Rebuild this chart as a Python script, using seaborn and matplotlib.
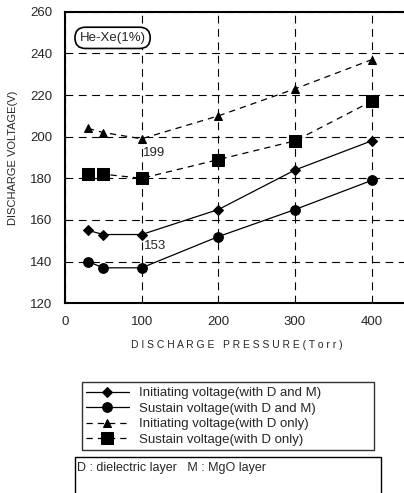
import pandas as pd
import matplotlib.pyplot as plt
import seaborn as sns
from matplotlib.patches import Rectangle

# Data
pressure = [30, 50, 100, 200, 300, 400]
init_dm = [155, 153, 153, 165, 184, 198]
sustain_dm = [140, 137, 137, 152, 165, 179]
init_d = [204, 202, 199, 210, 223, 237]
sustain_d = [182, 182, 180, 189, 198, 217]

labels = ['Initiating voltage(with D and M)', 'Sustain voltage(with D and M)',
          'Initiating voltage(with D only)', 'Sustain voltage(with D only)']
series = [init_dm, sustain_dm, init_d, sustain_d]
markers = ['D', 'o', '^', 's']
msizes = [5, 7, 6, 9]
lstyles = ['-', '-', (0, (5, 4)), (0, (5, 4))]

sns.set_style('white')
plt.rcParams['font.family'] = ['Liberation Sans', 'DejaVu Sans']

fig = plt.figure(figsize=(4.04, 4.93), dpi=100)
ax = fig.add_axes([0.161, 0.385, 0.85, 0.591])

handles = []
for lab, vals, m, ms, ls in zip(labels, series, markers, msizes, lstyles):
    df = pd.DataFrame({'Pressure': pressure, 'Voltage': vals})
    sns.lineplot(x='Pressure', y='Voltage', data=df, ax=ax, color='black',
                 marker=m, markersize=ms, linestyle=ls, linewidth=0.9,
                 markeredgecolor='black', label=lab, legend=False)
    handles.append(ax.lines[-1])

ax.set_xlim(0, 448)
ax.set_ylim(120, 260)
ax.set_xticks([0, 100, 200, 300, 400])
ax.set_yticks(range(120, 261, 20))
ax.tick_params(labelsize=9.5, length=0, pad=9)
ax.grid(True, color='black', linestyle=(0, (7, 5)), linewidth=0.8)
for s in ax.spines.values():
    s.set_color('black')
    s.set_linewidth(1.5)

ax.set_xlabel('D I S C H A R G E   P R E S S U R E ( T o r r )', fontsize=7.5, labelpad=9)
ax.set_ylabel('DISCHARGE VOLTAGE(V)', fontsize=8, labelpad=9)

ax.text(102, 192, '199', fontsize=9.5, va='center')
ax.text(103, 147.5, '153', fontsize=9.5, va='center')
ax.text(62, 247.5, 'He-Xe(1%)', fontsize=9.5, va='center', ha='center',
        bbox=dict(boxstyle='round,pad=0.35,rounding_size=0.8', fc='white', ec='black', lw=1.2))

leg = fig.legend(handles=handles, labels=labels, loc='lower left',
                 bbox_to_anchor=(0.186, 0.073, 0.757, 0.154), mode='expand',
                 fontsize=9.5, frameon=True, fancybox=False, edgecolor='black',
                 handlelength=3.2, labelspacing=0.25, borderpad=0.35)
leg.get_frame().set_linewidth(1.0)

fig.patches.append(Rectangle((0.186, -0.05), 0.757, 0.123, transform=fig.transFigure,
                             fill=False, ec='black', lw=1.0))
fig.text(0.19, 0.05, 'D : dielectric layer   M : MgO layer', fontsize=9, va='center')

fig.savefig('out.png', dpi=100)
plt.close()
